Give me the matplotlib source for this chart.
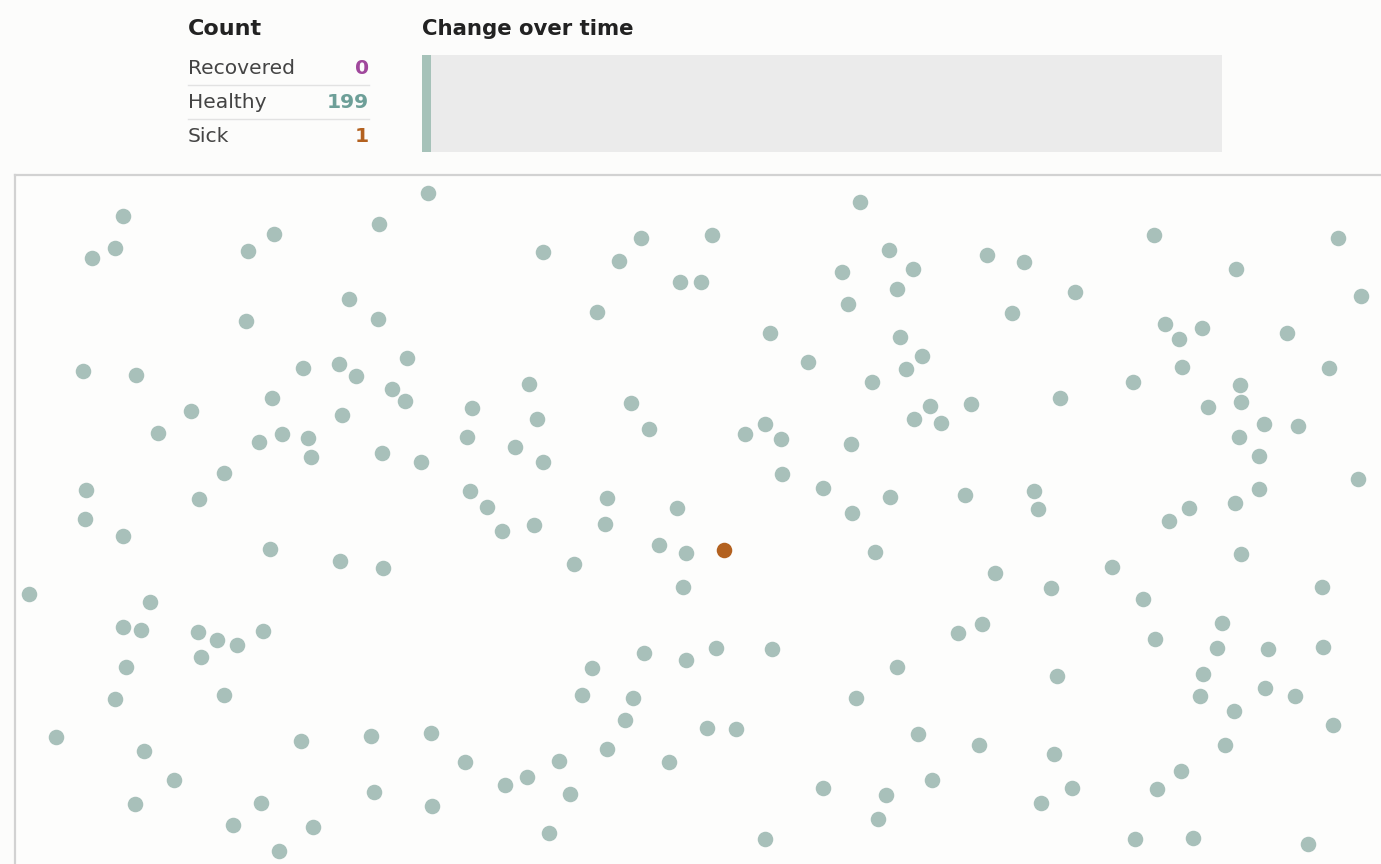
import matplotlib.pyplot as plt

W, H = 1381, 864

# count table
categories = ["Recovered", "Healthy", "Sick"]
counts = [0, 199, 1]
count_colors = ["#a0489c", "#6d9f98", "#b3611f"]

# change over time (only the first step so far)
time_steps = [0]
healthy_series = [199]
sick_series = [1]
recovered_series = [0]
n_steps = 89

# positions of the people in the box
healthy_x = [123, 92, 115, 248, 274, 379, 428, 349, 378, 246, 83, 136, 303, 339, 356,
             407, 392, 405, 272, 191, 158, 342, 259, 282, 308, 311, 382, 421, 224, 199,
             86, 85, 123, 270, 340, 383, 29, 150, 123, 141, 198, 217, 237, 263, 201,
             126, 115, 224, 56, 144, 174, 135, 301, 371, 431, 374, 432, 261, 233, 313,
             279,
             860, 543, 641, 619, 712, 680, 701, 842, 889, 897, 848, 597, 770, 808, 900,
             906, 872, 529, 472, 467, 537, 515, 543, 631, 649, 745, 765, 781, 851, 782,
             823, 890, 852, 470, 487, 607, 677,
             502, 534, 605, 574, 659, 686, 683, 875, 644, 592, 582, 633, 625, 686, 716,
             772, 897, 856, 707, 736, 607, 669, 465, 559, 527, 505, 570, 549, 823, 886,
             878, 765,
             1154, 1338, 987, 1024, 1236, 913, 1361, 1075, 1012, 1165, 1179, 1202, 1287,
             1329, 1182, 922, 1133, 1240, 1241, 1208, 1060, 971, 930, 914, 941, 1264,
             1298, 1239, 1259, 1358, 1259, 1235, 1189, 1169, 965, 1034, 1038,
             1241, 995, 1112, 1051, 1143, 1322, 958, 982, 1222, 1155, 1217, 1268, 1323,
             1203, 1057, 1200, 1265, 1295, 1234, 1333, 918, 979, 1054, 1225, 1181, 1157,
             1072, 932, 1041, 1135, 1193, 1308]
healthy_y = [216, 258, 248, 251, 234, 224, 193, 299, 319, 321, 371, 375, 368, 364, 376,
             358, 389, 401, 398, 411, 433, 415, 442, 434, 438, 457, 453, 462, 473, 499,
             490, 519, 536, 549, 561, 568, 594, 602, 627, 630, 632, 640, 645, 631, 657,
             667, 699, 695, 737, 751, 780, 804, 741, 736, 733, 792, 806, 803, 825, 827,
             851,
             202, 252, 238, 261, 235, 282, 282, 272, 250, 289, 304, 312, 333, 362, 337,
             369, 382, 384, 408, 437, 419, 447, 462, 403, 429, 434, 424, 439, 444, 474,
             488, 497, 513, 491, 507, 498, 508,
             531, 525, 524, 564, 545, 553, 587, 552, 653, 668, 695, 698, 720, 660, 648,
             649, 667, 698, 728, 729, 749, 762, 762, 761, 777, 785, 794, 833, 788, 795,
             819, 839,
             235, 238, 255, 262, 269, 269, 296, 292, 313, 324, 339, 328, 333,
             368, 367, 356, 382, 385, 402, 407, 398, 404, 406, 419, 423, 424,
             426, 437, 456, 479, 489, 503, 508, 521, 495, 491, 509,
             554, 573, 567, 588, 599, 587, 633, 624, 623, 639, 648, 649, 647,
             674, 676, 696, 688, 696, 711, 725, 734, 745, 754, 745, 771, 789,
             788, 780, 803, 839, 838, 844]
sick_x = [724]
sick_y = [550]

bg = "#fcfcfb"
fig = plt.figure(figsize=(W / 100, H / 100), dpi=100, facecolor=bg)


def fx(x):
    return x / W


def fy(y):
    return 1 - y / H


# header text
fig.text(fx(188), fy(29), "Count", fontsize=16, fontweight="bold",
         color="#222222", va="center", ha="left")
fig.text(fx(422), fy(29), "Change over time", fontsize=15.3, fontweight="bold",
         color="#222222", va="center", ha="left")

row_y = [68, 102, 136]
for name, val, col, y in zip(categories, counts, count_colors, row_y):
    fig.text(fx(188), fy(y), name, fontsize=14.6, color="#444444",
             va="center", ha="left")
    fig.text(fx(369), fy(y), str(val), fontsize=14.6, fontweight="bold",
             color=col, va="center", ha="right")
for y in [85, 119]:
    fig.add_artist(plt.Line2D([fx(188), fx(369)], [fy(y), fy(y)],
                              color="#e2e2e2", lw=1))

# timeline panel
tx = fig.add_axes([fx(422), fy(152), fx(1222) - fx(422), (152 - 55) / H])
tx.set_facecolor("#ebebeb")
tx.bar(time_steps, healthy_series, width=1, color="#a6c2b9", align="edge")
tx.bar(time_steps, sick_series, width=1, bottom=healthy_series,
       color="#b3611f", align="edge")
tx.bar(time_steps, recovered_series, width=1, color="#a0489c", align="edge")
tx.set_xlim(0, n_steps)
tx.set_ylim(0, 200)
tx.set_xticks([])
tx.set_yticks([])
for s in tx.spines.values():
    s.set_visible(False)

# simulation box
ax = fig.add_axes([fx(15), 0, 1 - fx(15), fy(175)])
ax.set_facecolor("#fdfdfc")
ax.scatter(healthy_x, healthy_y, s=125, color="#a8c0ba", linewidths=0, zorder=2)
ax.scatter(sick_x, sick_y, s=125, color="#b3611f", linewidths=0, zorder=3)
ax.set_xlim(15, W)
ax.set_ylim(H, 175)
ax.set_xticks([])
ax.set_yticks([])
for side in ["right", "bottom"]:
    ax.spines[side].set_visible(False)
for side in ["top", "left"]:
    ax.spines[side].set_color("#d2d2d2")
    ax.spines[side].set_linewidth(1.6)

fig.savefig("out.png", dpi=100, facecolor=bg)
